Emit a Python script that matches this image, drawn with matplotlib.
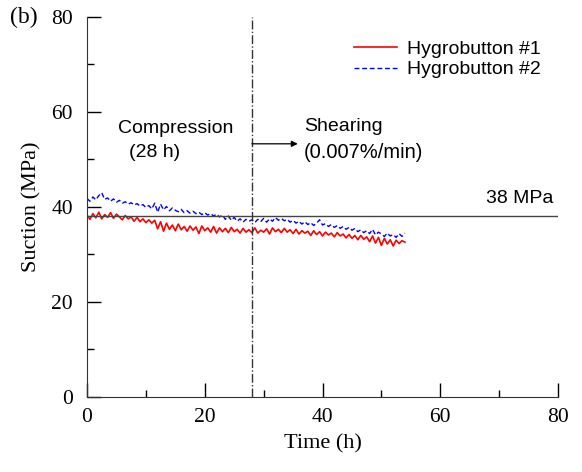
import matplotlib.pyplot as plt
from matplotlib.ticker import MultipleLocator

# Time axis, every half hour (h)
time_h = [i * 0.5 for i in range(109)]

# Hygrobutton #1 suction (MPa)
suction_1 = [
    38.3, 37.4, 38.6, 37.7, 38.9, 37.5, 38.4, 37.8, 38.8, 37.6, 38.5, 37.9,
    37.3, 38.2, 37.5, 37.9, 37.0, 37.8, 36.9, 37.5, 36.7, 37.3, 36.6, 37.2,
    35.4, 36.9, 34.9, 36.6, 35.3, 36.2, 35.0, 36.4, 35.2, 35.9, 34.9, 36.0,
    35.1, 35.8, 34.4, 36.0, 35.0, 35.6, 34.7, 35.9, 34.5, 35.6, 34.8, 35.5,
    34.6, 35.7, 34.8, 35.3, 34.5, 35.5, 34.7, 35.2, 34.6, 35.6, 34.5, 35.1,
    34.7, 35.4, 34.3, 35.6, 34.8, 35.3, 34.6, 35.5, 34.7, 35.2, 34.4, 35.3,
    34.3, 35.0, 34.5, 34.9, 34.0, 35.0, 34.2, 34.8, 33.9, 34.7, 34.1, 34.5,
    33.7, 34.6, 33.9, 34.3, 33.5, 34.2, 33.4, 34.0, 33.1, 34.0, 33.2, 33.7,
    32.7, 33.9, 32.4, 33.6, 31.9, 33.4, 32.2, 33.1, 31.8, 33.0, 32.3, 32.9, 32.6,
]

# Hygrobutton #2 suction (MPa)
suction_2 = [
    41.8, 41.2, 42.1, 41.5, 42.4, 43.0, 41.6, 41.9, 41.2, 41.7,
    41.0, 41.4, 40.8, 41.1, 40.6, 40.9, 40.4, 40.7, 40.2, 40.5,
    39.9, 40.3, 39.6, 40.8, 38.9, 40.6, 39.4, 40.1, 39.2, 39.8,
    39.3, 39.0, 39.5, 38.8, 39.2, 38.7, 39.1, 38.6, 38.9, 38.4,
    38.8, 38.3, 38.6, 38.1, 38.5, 37.9, 38.3, 37.4, 38.1, 37.2,
    37.8, 37.0, 37.5, 36.8, 37.4, 37.0, 37.3, 36.7, 37.4, 36.9,
    37.6, 36.8, 37.5, 37.0, 37.8, 37.2, 37.6, 37.1, 37.4, 36.8,
    37.2, 36.6, 37.0, 36.4, 36.9, 36.3, 36.7, 36.1, 36.6, 37.3,
    36.2, 36.5, 35.9, 36.3, 35.7, 36.1, 35.5, 35.9, 35.3, 35.7,
    35.1, 35.5, 34.8, 35.2, 34.6, 35.0, 34.4, 35.3, 34.1, 34.7,
    34.3, 33.8, 34.5, 33.9, 34.2, 33.6, 34.4, 33.8, 34.5,
]

ref_suction = 38      # MPa
shear_start = 28      # h

serif = ['Liberation Serif', 'DejaVu Serif']
sans = ['Liberation Sans', 'DejaVu Sans']

fig = plt.figure(figsize=(5.82, 4.72), dpi=100)
ax = fig.add_axes([0.1495, 0.159, 0.8093, 0.805])

ax.plot(time_h, suction_1, color='#ff0000', linewidth=1.2, label='Hygrobutton #1')
ax.plot(time_h, suction_2, color='#0000ff', linewidth=1.0, linestyle=(0, (3.5, 2)),
        label='Hygrobutton #2')

ax.axhline(ref_suction, color='#444444', linewidth=1.0)
ax.axvline(shear_start, color='#333333', linewidth=1.0, linestyle='-.')

# shearing arrow
ax.annotate('', xy=(35.8, 53.3), xytext=(shear_start, 53.3),
            arrowprops=dict(arrowstyle='-|>', color='black', lw=0.9,
                            mutation_scale=9, shrinkA=0, shrinkB=0))

ax.text(15.1, 56.6, 'Compression', ha='center', va='center', fontsize=14, family=sans)
ax.text(11.5, 51.4, '(28 h)', ha='center', va='center', fontsize=14, family=sans)
ax.text(43.5, 57.0, 'Shearing', ha='center', va='center', fontsize=14, family=sans)
ax.text(47.0, 51.4, '(0.007%/min)', ha='center', va='center', fontsize=14.5, family=sans)
ax.text(79.2, 41.7, '38 MPa', ha='right', va='center', fontsize=14, family=sans)

ax.set_xlim(0, 80)
ax.set_ylim(0, 80)
ax.xaxis.set_major_locator(MultipleLocator(20))
ax.xaxis.set_minor_locator(MultipleLocator(10))
ax.yaxis.set_major_locator(MultipleLocator(20))
ax.yaxis.set_minor_locator(MultipleLocator(10))
ax.tick_params(which='major', direction='in', length=10, width=1.0, labelsize=15.5)
ax.tick_params(axis='x', which='major', pad=8)
ax.tick_params(axis='y', which='major', pad=10)
ax.tick_params(which='minor', direction='in', length=5, width=1.0)
for lab in ax.get_xticklabels() + ax.get_yticklabels():
    lab.set_family(serif)

ax.spines['top'].set_visible(False)
ax.spines['right'].set_visible(False)
ax.spines['left'].set_color('#333333')
ax.spines['bottom'].set_color('#333333')

ax.set_xlabel('Time (h)', fontsize=16, family=serif, labelpad=5)
ax.set_ylabel('Suction (MPa)', fontsize=16, family=serif, labelpad=7)

ax.legend(loc='upper right', bbox_to_anchor=(1.0, 0.985), frameon=False,
          prop={'family': sans, 'size': 14}, handlelength=2.2, handletextpad=0.5,
          labelspacing=0.15)

fig.text(0.017, 0.962, '(b)', fontsize=17, family=serif, va='center')

fig.savefig('out.png', dpi=100)
